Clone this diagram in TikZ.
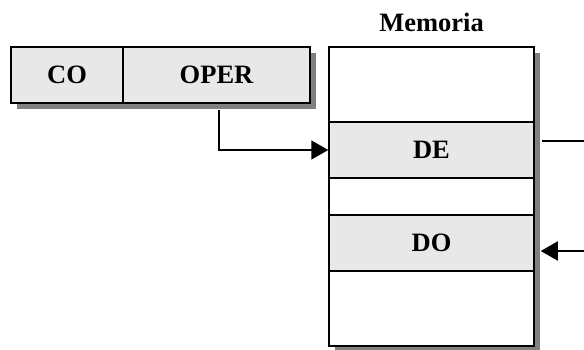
\documentclass[tikz,border=0pt]{standalone}
\usepackage{fontspec}
\setmainfont{Liberation Serif}
\usetikzlibrary{arrows.meta,shadows}

\definecolor{cellgray}{HTML}{E8E8E8}
\definecolor{shadowgray}{HTML}{808080}

\tikzset{
  cell/.style={draw=black, line width=1.5pt, inner sep=0pt, minimum height=56pt,
    font=\fontsize{26.5}{31}\selectfont\bfseries},
  shadowed/.style={general shadow={fill=shadowgray, shadow xshift=6pt, shadow yshift=-6pt}},
  link/.style={draw=black, line width=1.5pt},
  tip/.style={-{Triangle[length=17pt,width=19pt]}}
}

\begin{document}
\begin{tikzpicture}[x=1pt,y=1pt]
\useasboundingbox (0,0) rectangle (584,-349);

% Instruction format
\node[cell, shadowed, fill=cellgray, minimum width=112pt] (co) at (67,-75) {CO};
\node[cell, shadowed, fill=cellgray, minimum width=187pt] (oper) at (216.5,-75) {OPER};

% Memory with its two cells
\node[font=\fontsize{26.5}{31}\selectfont\bfseries] (title) at (431.5,-22) {Memoria};
\node[cell, shadowed, fill=white, minimum width=205pt, minimum height=299pt] (mem) at (431.5,-196.5) {};
\node[cell, fill=cellgray, minimum width=205pt] (de) at (431.5,-150) {DE};
\node[cell, fill=cellgray, minimum width=205pt] (do) at (431.5,-243) {DO};

% Connectors
\coordinate (deout) at (584,-141);
\coordinate (doin) at (584,-251);
\draw[link, tip] ([xshift=2.5pt,yshift=-6pt]oper.south) |- (de.west);
\draw[link] ([xshift=7pt]de.east |- deout) -- (deout);
\draw[link, tip] (doin) -- ([xshift=6pt]do.east |- doin);

\end{tikzpicture}
\end{document}
